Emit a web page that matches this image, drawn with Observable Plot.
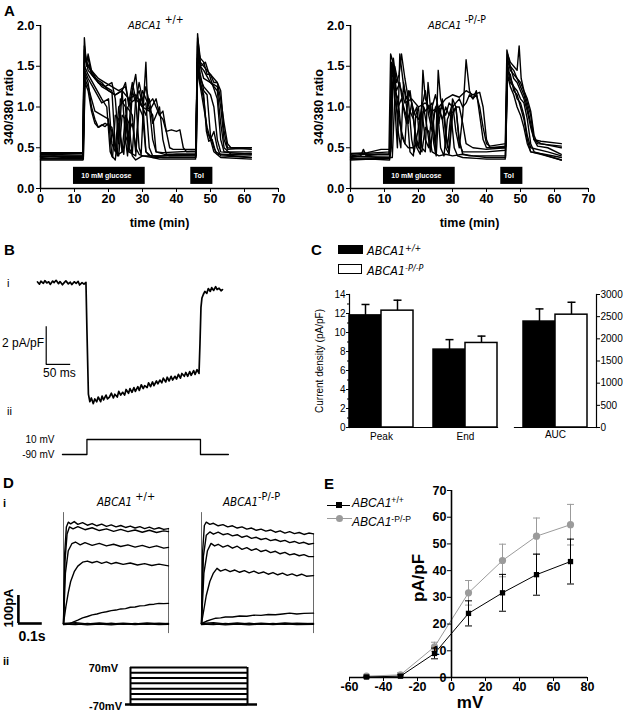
<!DOCTYPE html>
<html><head><meta charset="utf-8">
<script src="https://cdn.jsdelivr.net/npm/d3@7"></script>
<script src="https://cdn.jsdelivr.net/npm/@observablehq/plot@0.6"></script>
<style>
body{margin:0;background:#fff;}
#fig{position:relative;width:623px;height:716px;overflow:hidden;font-family:"Liberation Sans",Arial,Helvetica,sans-serif;color:#000;background:#fff}
#fig svg{overflow:visible}
.lab{position:absolute;white-space:nowrap;line-height:1}
sup{font-size:0.72em;vertical-align:0.5em;line-height:0}
sup.big{font-size:0.95em;vertical-align:0.55em}
</style></head><body><div id="fig"></div>
<script>
const FONT = '"Liberation Sans", Arial, Helvetica, sans-serif';
const NARROW = '"Liberation Sans Narrow", "DejaVu Sans Condensed", Arial, sans-serif';

// ---------- Panel A data (time in min, 340/380 ratio) ----------
const aXTicks = [0, 10, 20, 30, 40, 50, 60, 70];
const aYTicks = [0, 0.5, 1.0, 1.5, 2.0];
const aStimuli = [{label: "10 mM glucose", start: 9.7, end: 30.8}, {label: "Tol", start: 44.2, end: 50.7}];
const aWildTraces = [
 [0,0.38, 4,0.40, 8,0.37, 12.4,0.39, 12.9,1.85, 13.5,1.5, 14,1.65, 15,1.45, 17,1.3, 19,1.25, 21,1.2, 22,0.5, 22.6,0.4, 23.5,1.1, 25,1.0, 26,0.45, 27,1.2, 28,1.05, 29,1.3, 30,1.1, 31,0.45, 32,0.4, 36,0.4, 40,0.42, 45.7,0.42, 46.2,1.9, 47,1.5, 48,1.45, 50,1.3, 52,1.2, 53,0.8, 54,0.5, 56,0.42, 62,0.43],
 [0,0.42, 12.5,0.41, 13,1.6, 14,1.5, 16,1.35, 18,1.3, 20,1.2, 22,1.15, 24,1.2, 25,0.6, 25.6,0.4, 26.5,1.05, 28,1.1, 29,0.5, 29.6,0.42, 30.5,1.2, 31,1.55, 31.5,1.0, 33,0.9, 34,0.45, 38,0.4, 45.8,0.4, 46.3,1.7, 47,1.5, 48.5,1.55, 50,1.35, 52,1.1, 53,0.6, 54,0.45, 62,0.45],
 [0,0.36, 12.6,0.36, 13.1,1.4, 14,1.3, 15,1.0, 16,0.85, 17,0.75, 19,0.8, 21,0.75, 22,0.5, 23,0.4, 24,0.9, 25,0.85, 26,0.45, 28,0.4, 29,1.0, 30,0.9, 31,0.45, 33,0.38, 40,0.38, 45.6,0.38, 46.1,1.6, 47,1.3, 48,1.1, 49,0.7, 50,0.6, 51,0.7, 52,0.5, 53,0.4, 62,0.38],
 [0,0.4, 12.4,0.4, 12.9,1.7, 14,1.45, 16,1.35, 18,1.25, 20,1.2, 22,1.15, 24,1.2, 26,1.1, 28,1.15, 30,1.0, 32,0.95, 34,1.1, 35,0.9, 36,0.85, 37,0.7, 38.5,0.72, 40,0.7, 41,0.72, 42,0.5, 43,0.45, 45.8,0.45, 46.2,1.75, 47,1.5, 48,1.35, 50,1.3, 52,1.25, 53,1.0, 54,0.6, 55,0.48, 62,0.5],
 [0,0.37, 12.5,0.37, 13,1.5, 14,1.4, 16,1.25, 18,1.1, 19.5,1.0, 20.5,0.45, 21.2,0.38, 22,0.9, 23,0.85, 24,0.5, 24.5,0.42, 25.5,1.0, 27,0.9, 28,0.45, 29,1.1, 30,1.0, 31,1.05, 32,0.5, 33,0.4, 36,0.38, 45.7,0.38, 46.2,1.65, 47,1.4, 48,1.2, 49,1.15, 50,0.65, 51,0.5, 52,0.42, 62,0.38],
 [0,0.44, 12.4,0.44, 12.9,1.55, 14,1.6, 15,1.4, 17,1.3, 19,1.25, 21,1.3, 22,1.1, 23,0.55, 24,1.2, 25,1.3, 26,1.0, 27,1.2, 28,1.4, 29,1.0, 30,1.2, 31,1.1, 32,1.0, 33,0.6, 34,0.45, 36,0.44, 45.8,0.46, 46.2,1.8, 47,1.55, 48,1.5, 49,1.45, 51,1.35, 52,1.3, 53,1.2, 54,0.7, 55,0.5, 62,0.48],
 [0,0.4, 12.5,0.39, 13,1.45, 14,1.35, 16,1.2, 18,1.05, 20,1.1, 21,0.55, 22,0.45, 23,1.0, 25,1.1, 26,0.5, 27,0.42, 28,1.1, 30,1.0, 31,0.9, 32,1.1, 33,0.8, 34,0.9, 35,1.0, 36,0.6, 37,0.42, 45.7,0.42, 46.1,1.55, 47,1.35, 48,1.25, 50,1.15, 51,1.0, 52,0.6, 53,0.45, 62,0.42],
 [0,0.35, 12.5,0.35, 13,1.35, 14,1.25, 15,1.1, 16,0.95, 18,0.9, 20,0.85, 21,0.4, 22,0.35, 23,0.8, 24,0.45, 25,0.9, 26,0.8, 27,0.4, 28,0.35, 30,0.4, 33,0.38, 35,0.36, 45.6,0.36, 46.1,1.45, 47,1.25, 48,1.0, 49,0.75, 50,0.6, 51,0.45, 53,0.38, 62,0.36],
 [0,0.43, 12.4,0.43, 12.9,1.75, 13.5,1.55, 15,1.45, 17,1.35, 19,1.3, 21,1.25, 23,1.2, 25,1.25, 26,1.05, 27,1.3, 28,1.1, 29,1.2, 30,1.05, 31,1.25, 32,1.05, 33,1.1, 34,1.0, 35,0.9, 36,0.95, 37,0.7, 38,0.5, 39,0.48, 45.8,0.48, 46.2,1.85, 47,1.6, 48,1.55, 49,1.4, 50,1.4, 51,1.3, 52,1.3, 53,1.1, 54,0.8, 55,0.55, 56,0.5, 62,0.5],
 [0,0.39, 12.6,0.38, 13.1,1.3, 14,1.2, 15,0.95, 16,0.8, 17,0.75, 18,0.78, 19,0.76, 20,0.8, 21,0.7, 22,0.5, 23,0.42, 24,0.45, 26,0.7, 27,0.8, 28,0.5, 29,0.42, 30,0.4, 32,0.4, 35,0.4, 45.7,0.41, 46.1,1.5, 47,1.3, 48,1.15, 48.8,0.7, 49.5,0.58, 50.5,0.6, 51.5,0.45, 53,0.42, 62,0.41]
];
const aMutantTraces = [
 [0,0.38, 3,0.4, 3.8,0.48, 4.6,0.4, 8,0.42, 11.3,0.42, 11.8,1.65, 12.5,1.55, 13.2,0.9, 13.8,0.5, 14.5,1.65, 15.5,1.3, 16.5,1.1, 17.5,1.2, 18.5,0.9, 19.5,1.0, 20.5,0.5, 21.3,1.45, 22,1.1, 23,1.0, 24,1.05, 25,0.45, 25.8,1.45, 26.5,1.1, 27.5,0.95, 28.5,0.5, 29.5,0.9, 31,1.0, 32,1.0, 33,0.8, 34,0.55, 36,0.5, 40,0.48, 45.5,0.5, 46,1.7, 47,1.5, 48,1.45, 49,1.35, 50,1.3, 51,1.2, 52,1.05, 53,0.9, 54,0.6, 55,0.52, 58,0.5, 62,0.42],
 [0,0.35, 6,0.36, 11.5,0.35, 12,0.5, 12.6,1.6, 13.5,1.3, 14.3,1.4, 15,1.65, 16,1.35, 17,1.1, 18,0.6, 18.7,0.45, 20,0.75, 21,1.0, 22,1.2, 23,0.9, 24,0.7, 25,1.0, 26,0.8, 27,1.1, 28,0.65, 29,0.45, 30,1.1, 31,1.0, 32,0.6, 33,0.42, 35,0.4, 40,0.4, 45.6,0.4, 46.1,1.55, 47,1.35, 48,1.25, 49,1.2, 50,1.1, 51,1.05, 52,0.85, 53,0.55, 54,0.45, 58,0.4, 62,0.35],
 [0,0.42, 8,0.44, 11.8,0.45, 12.4,1.2, 13,1.5, 14,1.3, 15,1.2, 16,1.05, 18,1.1, 20,1.0, 22,1.05, 24,0.95, 26,1.0, 28,1.1, 30,1.15, 32,1.12, 34,1.2, 36,1.15, 38,1.18, 39,1.0, 40,0.6, 41,0.5, 45.7,0.52, 46.2,1.6, 47,1.45, 48,1.4, 49,1.35, 50,1.25, 51,1.15, 52,1.0, 53,0.8, 54,0.6, 56,0.55, 62,0.5],
 [0,0.4, 4,0.42, 11.5,0.42, 12,1.4, 13,1.35, 14,0.7, 14.8,0.5, 15.6,1.3, 16.5,1.0, 17.5,0.45, 18.5,0.4, 19.2,0.9, 20,1.0, 21,0.5, 22,0.45, 22.8,1.3, 23.5,1.0, 24.5,0.55, 25.2,0.4, 26,1.0, 27,0.85, 28,0.5, 29,0.42, 30,0.9, 31,1.0, 32,0.55, 33,0.45, 36,0.45, 40,0.45, 45.6,0.47, 46.1,1.5, 47,1.3, 48,1.25, 49,1.1, 50,1.05, 51,0.9, 52,0.65, 53,0.5, 58,0.45, 62,0.4],
 [0,0.37, 10,0.38, 12.3,0.38, 13,1.1, 14,0.9, 15,0.7, 16,0.55, 17,0.5, 18.5,0.5, 19.5,0.55, 21,0.45, 22,0.75, 23,0.7, 24,0.45, 26,0.4, 28,0.42, 30,0.4, 33,0.42, 36,0.4, 40,0.38, 45.6,0.38, 46.2,1.4, 47,1.25, 48,1.15, 49,1.0, 50,0.9, 51,0.75, 52,0.55, 53,0.45, 56,0.42, 62,0.35],
 [0,0.39, 11.6,0.4, 12.2,1.5, 13,1.3, 14,1.0, 15,1.1, 16,0.95, 17,0.8, 18,1.05, 19,0.9, 20,0.85, 21,0.95, 22,0.6, 23,0.5, 24,1.0, 25,1.15, 26,0.95, 27,0.85, 28,1.0, 29,0.9, 30,1.05, 31,0.7, 32,0.5, 33,0.9, 34,1.58, 35,1.2, 36,1.1, 37,1.15, 38,1.0, 39,0.75, 40,0.55, 41,0.52, 45.7,0.55, 46.2,1.65, 47,1.55, 48,1.5, 49,1.45, 49.6,1.75, 50.2,1.35, 51,1.2, 52,1.1, 53,0.95, 54,0.65, 55,0.55, 62,0.52],
 [0,0.43, 5,0.44, 9,0.48, 11.7,0.48, 12.3,1.3, 13,1.2, 14,1.1, 15,0.65, 16,0.55, 17,1.2, 18,1.05, 19,0.7, 20,0.5, 21,1.05, 22,0.95, 23,1.0, 24,0.8, 25,0.6, 26,0.95, 27,1.0, 28,0.9, 29,1.05, 30,1.0, 31,1.05, 32,1.1, 33,1.0, 34,1.05, 35,1.15, 36,1.1, 37,1.2, 38,0.9, 39,0.6, 40,0.5, 45.6,0.5, 46.1,1.55, 47,1.5, 48,1.35, 49,1.3, 50,1.2, 51,1.1, 52,0.95, 53,0.75, 54,0.6, 56,0.58, 62,0.55],
 [0,0.36, 11.5,0.37, 12.1,1.55, 12.8,1.45, 13.5,1.2, 14.5,1.3, 15.5,1.0, 16.5,0.8, 17.5,0.95, 18.5,0.85, 19.5,0.5, 20.5,0.42, 21.5,1.0, 22.5,0.75, 23.5,0.45, 24.5,0.9, 25.5,1.05, 26.5,0.5, 27.5,0.4, 28.5,0.85, 29.5,0.95, 30.5,0.5, 31.5,0.4, 33,0.38, 37,0.37, 40,0.36, 45.5,0.36, 46,1.45, 47,1.4, 48,1.2, 49,1.15, 50,1.0, 51,0.85, 52,0.6, 53,0.45, 57,0.42, 62,0.38]
];

// ---------- Panel B data (ms, pA/pF, mV) ----------
const bTrace = [0,0.05, 4,-0.06, 7,0.09, 12,-0.02, 15,0.12, 19,0.0, 23,0.06, 26,-0.08, 31,0.1, 34,0.02, 38,0.14, 43,-0.04, 46,0.07, 51,-0.1, 55,0.03, 58,0.11, 63,-0.05, 67,0.04, 70,-0.09, 75,0.06, 79,-0.02, 83,0.08, 86,-0.11, 91,0.02, 95,-0.06, 99,0.03, 101,-2.5, 104,-5.9, 107,-6.3, 110,-6.1, 114,-6.4, 117,-6.15, 121,-6.3, 124,-6.05, 129,-6.3, 132,-6.0, 135,-6.2, 140,-5.95, 143,-6.15, 147,-6.05, 151,-5.85, 155,-6.1, 158,-5.9, 163,-6.05, 166,-5.75, 170,-5.95, 174,-5.8, 178,-5.95, 181,-5.65, 186,-5.85, 189,-5.6, 193,-5.8, 197,-5.55, 200,-5.75, 205,-5.5, 208,-5.7, 212,-5.4, 216,-5.6, 219,-5.45, 224,-5.55, 227,-5.3, 231,-5.5, 235,-5.25, 238,-5.45, 243,-5.2, 246,-5.35, 250,-5.15, 254,-5.3, 257,-5.05, 262,-5.25, 265,-5.0, 269,-5.2, 273,-4.95, 276,-5.15, 281,-4.95, 284,-5.1, 288,-4.85, 292,-5.05, 295,-4.8, 300,-4.95, 303,-4.75, 307,-4.95, 311,-4.7, 314,-4.9, 319,-4.65, 322,-4.85, 326,-4.6, 330,-4.8, 332,-3.2, 334,-1.3, 336,-0.8, 339,-0.6, 342,-0.45, 346,-0.55, 349,-0.3, 353,-0.45, 356,-0.25, 360,-0.4, 364,-0.2, 367,-0.35, 371,-0.28, 375,-0.42, 378,-0.35];
const bScaleBar = {t: 17.8, v: -4.32, amp: 2, dur: 50};
const bProtocol = [[51,-90],[101,-90],[101,10],[333,10],[333,-90],[390,-90]];
const bLevels = [{mv: 10, text: "10 mV"}, {mv: -90, text: "-90 mV"}];

// ---------- Panel C data ----------
const cGroups = ["Peak", "End"];
const cGenotypes = ["+/+", "-P/-P"];
const cWtMean = [11.8, 8.2];
const cWtErr = [1.15, 1.05];
const cKoMean = [12.3, 8.9];
const cKoErr = [1.1, 0.72];
const cAucMean = [2390, 2545];
const cAucErr = [285, 280];
const cLeftTicks = [0, 2, 4, 6, 8, 10, 12, 14];
const cLeftMinor = [1, 3, 5, 7, 9, 11, 13];
const cRightTicks = [0, 500, 1000, 1500, 2000, 2500, 3000];

// ---------- Panel D data (s, pA) ----------
const dWtTraces = [
 [0,0, 0.005,250, 0.012,345, 0.02,362, 0.03,356, 0.045,364, 0.06,354, 0.08,360, 0.1,351, 0.12,357, 0.14,349, 0.16,355, 0.18,347, 0.2,352, 0.22,345, 0.24,350, 0.26,343, 0.28,348, 0.3,341, 0.32,346, 0.34,339, 0.36,344, 0.38,337, 0.4,342, 0.42,336, 0.44,339],
 [0,0, 0.006,220, 0.015,320, 0.025,345, 0.04,338, 0.06,346, 0.09,335, 0.12,342, 0.15,332, 0.18,338, 0.21,329, 0.24,336, 0.27,328, 0.3,334, 0.33,326, 0.36,333, 0.39,325, 0.42,331, 0.44,328],
 [0,0, 0.008,180, 0.02,260, 0.035,285, 0.05,291, 0.07,281, 0.09,289, 0.12,279, 0.15,286, 0.18,277, 0.21,283, 0.24,275, 0.27,281, 0.3,273, 0.33,279, 0.36,271, 0.39,277, 0.42,269, 0.44,272],
 [0,0, 0.01,60, 0.02,110, 0.03,150, 0.045,185, 0.06,205, 0.08,219, 0.1,223, 0.12,217, 0.14,222, 0.16,215, 0.18,220, 0.2,213, 0.22,218, 0.25,211, 0.28,216, 0.31,209, 0.34,214, 0.37,207, 0.4,212, 0.44,206],
 [0,0, 0.02,-3, 0.04,5, 0.06,12, 0.08,20, 0.1,25, 0.12,31, 0.14,34, 0.16,39, 0.18,42, 0.2,46, 0.22,48, 0.24,52, 0.26,53, 0.28,58, 0.3,59, 0.32,63, 0.34,64, 0.36,68, 0.38,69, 0.4,72, 0.42,71, 0.44,72],
 [0,0, 0.05,3, 0.1,-2, 0.15,2, 0.2,-2, 0.25,1, 0.3,-2, 0.35,2, 0.4,-1, 0.44,0],
 [0,-2, 0.05,-4, 0.1,0, 0.15,-3, 0.2,1, 0.25,-3, 0.3,0, 0.35,-3, 0.4,1, 0.44,-2],
 [0,-4, 0.05,-1, 0.1,-5, 0.15,-2, 0.2,-5, 0.25,-1, 0.3,-4, 0.35,-1, 0.4,-4, 0.44,-3]
];
const dMutTraces = [
 [0,0, 0.005,260, 0.012,350, 0.02,362, 0.035,354, 0.05,358, 0.07,349, 0.09,353, 0.11,345, 0.13,349, 0.15,341, 0.17,345, 0.19,337, 0.21,341, 0.23,333, 0.25,337, 0.27,330, 0.29,334, 0.31,326, 0.33,331, 0.35,323, 0.37,328, 0.39,321, 0.41,325, 0.43,318, 0.45,323, 0.47,320],
 [0,0, 0.008,240, 0.02,315, 0.035,327, 0.05,319, 0.07,326, 0.09,317, 0.11,321, 0.13,313, 0.15,317, 0.17,308, 0.19,313, 0.21,304, 0.23,308, 0.25,300, 0.27,304, 0.29,296, 0.31,300, 0.33,293, 0.35,297, 0.37,289, 0.39,293, 0.41,286, 0.43,290, 0.45,283, 0.47,286],
 [0,0, 0.01,180, 0.025,260, 0.04,286, 0.055,277, 0.07,283, 0.09,273, 0.11,279, 0.13,269, 0.15,276, 0.17,265, 0.19,271, 0.21,261, 0.23,267, 0.25,257, 0.27,262, 0.29,253, 0.31,258, 0.33,249, 0.35,254, 0.37,245, 0.39,249, 0.41,242, 0.43,246, 0.45,239, 0.47,239],
 [0,0, 0.01,50, 0.02,100, 0.035,150, 0.05,180, 0.065,197, 0.08,187, 0.1,193, 0.12,185, 0.14,191, 0.16,183, 0.18,189, 0.2,181, 0.22,187, 0.24,179, 0.26,184, 0.28,176, 0.3,182, 0.32,174, 0.34,180, 0.36,172, 0.38,177, 0.4,170, 0.42,176, 0.44,169, 0.47,171],
 [0,0, 0.02,8, 0.04,14, 0.06,19, 0.08,20, 0.1,23, 0.13,23, 0.16,27, 0.19,26, 0.22,30, 0.25,29, 0.28,32, 0.31,31, 0.34,34, 0.37,37, 0.4,34, 0.43,36, 0.47,37],
 [0,0, 0.05,3, 0.1,-2, 0.15,2, 0.2,-2, 0.25,1, 0.3,-2, 0.35,2, 0.4,-1, 0.47,0],
 [0,-2, 0.05,-4, 0.1,0, 0.15,-3, 0.2,1, 0.25,-3, 0.3,0, 0.35,-3, 0.4,1, 0.47,-2],
 [0,-4, 0.05,-1, 0.1,-5, 0.15,-2, 0.2,-5, 0.25,-1, 0.3,-4, 0.35,-1, 0.4,-4, 0.47,-3]
];
const dWtDuration = 0.44;
const dMutDuration = 0.47;
const dCapTransient = 396;
const dTail = -36;
const dScaleBar = {t: -0.189, amp: 100, dur: 0.1};
const dLevels = [-70, -50, -30, -10, 10, 30, 50, 70];
const dPulse = {start: 0, end: 0.49, pre: -0.021, post: 0.532};

// ---------- Panel E data (mV, pA/pF) ----------
const eVoltages = [-50, -30, -10, 10, 30, 50, 70];
const eWtMean = [0.2, 0.5, 9.0, 24.0, 31.7, 38.5, 43.4];
const eWtErr = [0.3, 0.5, 2.0, 4.7, 6.9, 7.7, 8.4];
const eMutMean = [0.5, 1.0, 11.5, 31.7, 43.8, 52.9, 57.2];
const eMutErr = [0.5, 0.8, 1.7, 4.6, 6.1, 6.8, 7.6];
const eXTicks = [-60, -40, -20, 0, 20, 40, 60, 80];
const eYTicks = [0, 10, 20, 30, 40, 50, 60, 70];
const eXDomain = [-60, 80];
const eYDomain = [0, 70];

// ---------- helpers ----------
const fig = document.getElementById("fig");
function put(el, left, top) { el.style.position = "absolute"; el.style.left = left + "px"; el.style.top = top + "px"; fig.appendChild(el); return el; }
function label(html, left, top, css = "") { const d = document.createElement("div"); d.className = "lab"; d.innerHTML = html; d.style.cssText = css; return put(d, left, top); }
function plot(opts, left, top) {
  const svg = Plot.plot({...opts, style: {background: "transparent", overflow: "visible", fontFamily: FONT, color: "black"}});
  return put(svg, left, top);
}
function rows(traces) {
  return traces.flatMap((tr, id) => { const out = []; for (let i = 0; i < tr.length; i += 2) out.push({t: tr[i], v: tr[i + 1], id}); return out; });
}
const capSymbol = {draw(ctx, size) { const r = Math.sqrt(size / Math.PI); ctx.moveTo(-r, 0); ctx.lineTo(r, 0); }};
const genoFill = g => g === cGenotypes[0] ? "black" : "white";
const plain = d => `${d}`;

// ---------- Panel A ----------
function panelA(traces, left) {
  plot({
    width: 310, height: 230, marginLeft: 40, marginRight: 32, marginTop: 25, marginBottom: 42,
    x: {domain: [0, 70]}, y: {domain: [0, 2]},
    marks: [
      Plot.rect(aStimuli, {x1: "start", x2: "end", y1: 0.05, y2: 0.26, fill: "black"}),
      Plot.text(aStimuli, {x: d => (d.start + d.end) / 2, y: 0.155, text: "label", fill: "white", fontSize: 7, fontWeight: "bold", dx: -3}),
      Plot.line(rows(traces), {x: "t", y: "v", z: "id", stroke: "black", strokeWidth: 1.4}),
      Plot.ruleX([0], {y1: 0, y2: 2, strokeWidth: 1.5}),
      Plot.ruleY([0], {x1: 0, x2: 70, strokeWidth: 1.5}),
      Plot.axisX(aXTicks, {tickSize: 4, tickPadding: 2, fontSize: 12.5, fontWeight: "bold", label: "time (min)", labelAnchor: "center", labelArrow: "none", labelOffset: 38}),
      Plot.axisY(aYTicks, {tickSize: 4, tickPadding: 2, tickFormat: d3.format(".1f"), fontSize: 12.5, fontWeight: "bold", label: "340/380 ratio", labelAnchor: "center", labelArrow: "none", labelOffset: 36})
    ]
  }, left, 0);
}
panelA(aWildTraces, 0);
panelA(aMutantTraces, 310);
label("A", 4, 2.7, "font-size:15px;font-weight:bold");
label(`<i>ABCA1</i> <sup class="big">+/+</sup>`, 128, 19, `font-size:11px;font-family:${NARROW}`);
label(`<i>ABCA1</i> <sup class="big">-P/-P</sup>`, 428, 19, `font-size:11px;font-family:${NARROW}`);

// ---------- Panel B ----------
const bRows = []; for (let i = 0; i < bTrace.length; i += 2) bRows.push({t: bTrace[i], v: bTrace[i + 1]});
plot({
  width: 240, height: 132, marginLeft: 37, marginRight: 18, marginTop: 0, marginBottom: 0,
  x: {domain: [0, 378], axis: null}, y: {domain: [-6.5, 0.5], axis: null},
  marks: [
    Plot.line(bRows, {x: "t", y: "v", stroke: "black", strokeWidth: 1.7}),
    Plot.ruleX([bScaleBar.t], {y1: bScaleBar.v, y2: bScaleBar.v + bScaleBar.amp, strokeWidth: 1.2}),
    Plot.ruleY([bScaleBar.v], {x1: bScaleBar.t, x2: bScaleBar.t + bScaleBar.dur, strokeWidth: 1.2})
  ]
}, 0, 273);
plot({
  width: 240, height: 35, marginLeft: 37, marginRight: 18, marginTop: 9, marginBottom: 11,
  x: {domain: [0, 378], axis: null}, y: {domain: [-90, 10], axis: null},
  marks: [
    Plot.line(bProtocol, {x: d => d[0], y: d => d[1], stroke: "black", strokeWidth: 1.3}),
    Plot.text(bLevels, {x: bProtocol[0][0], y: "mv", text: "text", textAnchor: "end", dx: -8, fontSize: 10})
  ]
}, 0, 430);
label("B", 4, 241.6, "font-size:15px;font-weight:bold");
label("i", 7, 277.6, "font-size:11px");
label("ii", 7, 406, "font-size:11px");
label("2 pA/pF", 2, 337, "font-size:12px");
label("50 ms", 43, 367, "font-size:12px");

// ---------- Panel C ----------
const cRows = cGroups.flatMap((g, i) => [
  {group: g, genotype: cGenotypes[0], mean: cWtMean[i], err: cWtErr[i]},
  {group: g, genotype: cGenotypes[1], mean: cKoMean[i], err: cKoErr[i]}
]);
plot({
  width: 220, height: 170, marginLeft: 39, marginRight: 13, marginTop: 14, marginBottom: 23,
  fx: {domain: cGroups, paddingInner: 0.235, paddingOuter: 0.106},
  x: {domain: cGenotypes, padding: 0, axis: null},
  y: {domain: [0, 14]},
  marks: [
    Plot.ruleX(cRows, {fx: "group", x: "genotype", y1: "mean", y2: d => d.mean + d.err, strokeWidth: 1.5}),
    Plot.dot(cRows, {fx: "group", x: "genotype", y: d => d.mean + d.err, symbol: capSymbol, r: 4, stroke: "black", fill: "none", strokeWidth: 1.5}),
    Plot.barY(cRows, {fx: "group", x: "genotype", y: "mean", fill: d => genoFill(d.genotype), stroke: "black", strokeWidth: 1.5}),
    Plot.frame({anchor: "left", facet: "super", strokeWidth: 1.2}),
    Plot.frame({anchor: "bottom", facet: "super", strokeWidth: 1.2}),
    Plot.axisY(cLeftTicks, {tickSize: 3, tickPadding: 1, fontSize: 10, tickFormat: plain, label: "Current density (pA/pF)", labelAnchor: "center", labelArrow: "none", labelOffset: 34}),
    Plot.axisY(cLeftMinor, {tickSize: 2, tickFormat: () => "", label: null}),
    Plot.axisFx({anchor: "bottom", tickSize: 0, tickPadding: 5, fontSize: 10, label: null})
  ]
}, 300, 280);
const cAucRows = cGenotypes.map((g, i) => ({genotype: g, mean: cAucMean[i], err: cAucErr[i]}));
plot({
  width: 118, height: 170, marginLeft: 9, marginRight: 27, marginTop: 14, marginBottom: 23,
  x: {domain: cGenotypes, paddingInner: 0, paddingOuter: 0.26, axis: null},
  y: {domain: [0, 3000]},
  marks: [
    Plot.ruleX(cAucRows, {x: "genotype", y1: "mean", y2: d => d.mean + d.err, strokeWidth: 1.5}),
    Plot.dot(cAucRows, {x: "genotype", y: d => d.mean + d.err, symbol: capSymbol, r: 4, stroke: "black", fill: "none", strokeWidth: 1.5}),
    Plot.barY(cAucRows, {x: "genotype", y: "mean", fill: d => genoFill(d.genotype), stroke: "black", strokeWidth: 1.5}),
    Plot.frame({anchor: "right", strokeWidth: 1.2}),
    Plot.frame({anchor: "bottom", strokeWidth: 1.2}),
    Plot.axisY(cRightTicks, {anchor: "right", tickSize: 3, tickPadding: 1, fontSize: 10, tickFormat: plain, label: null}),
    Plot.text(["AUC"], {frameAnchor: "bottom", dy: 10, fontSize: 10})
  ]
}, 505, 280);
label("C", 311, 241.6, "font-size:15px;font-weight:bold");
label("", 338, 245, "width:25px;height:9px;background:#000");
label("", 338, 264, "width:22px;height:8px;background:#fff;border:1.5px solid #000");
label(`<i>ABCA1<sup>+/+</sup></i>`, 367, 245, `font-size:12.5px;font-family:${NARROW}`);
label(`<i>ABCA1<sup>-P/-P</sup></i>`, 367, 265, `font-size:12.5px;font-family:${NARROW}`);

// ---------- Panel D ----------
function panelD(traces, duration, left, width, marginLeft, marginRight, withScale) {
  const marks = [
    Plot.ruleX([0], {y1: 0, y2: dCapTransient, stroke: "#444", strokeWidth: 0.8}),
    Plot.ruleX([duration], {y1: dTail, y2: traces[0][traces[0].length - 1], stroke: "#444", strokeWidth: 0.8}),
    Plot.line(rows(traces), {x: "t", y: "v", z: "id", stroke: "black", strokeWidth: 1.4})
  ];
  if (withScale) marks.push(
    Plot.ruleX([dScaleBar.t], {y1: 0, y2: dScaleBar.amp, strokeWidth: 2.6}),
    Plot.ruleY([0], {x1: dScaleBar.t, x2: dScaleBar.t + dScaleBar.dur, strokeWidth: 2.6})
  );
  plot({
    width, height: 140, marginLeft, marginRight, marginTop: 6, marginBottom: 8,
    x: {domain: [0, duration], axis: null}, y: {domain: [-50, 400], axis: null},
    marks
  }, left, 505);
}
panelD(dWtTraces, dWtDuration, 0, 180, 63, 12, true);
panelD(dMutTraces, dMutDuration, 180, 140, 21, 7, false);
plot({
  width: 190, height: 60, marginLeft: 50, marginRight: 23, marginTop: 12, marginBottom: 11,
  x: {domain: [dPulse.start, dPulse.end], axis: null}, y: {domain: [-70, 70], axis: null},
  marks: [
    Plot.ruleY(dLevels, {x1: dPulse.start, x2: dPulse.end, strokeWidth: 2}),
    Plot.ruleX([dPulse.start, dPulse.end], {y1: -70, y2: 70, strokeWidth: 2}),
    Plot.ruleY([-70], {x1: dPulse.pre, x2: dPulse.post, strokeWidth: 2.5})
  ]
}, 80, 655);
label("D", 3, 474.7, "font-size:15px;font-weight:bold");
label("i", 3, 497.6, "font-size:11px;font-weight:bold");
label("ii", 3, 655.6, "font-size:11px;font-weight:bold");
label(`<i>ABCA1</i> <sup class="big">+/+</sup>`, 97, 497, `font-size:11.5px;font-family:${NARROW}`);
label(`<i>ABCA1</i><sup class="big">-P/-P</sup>`, 223, 497, `font-size:11.5px;font-family:${NARROW}`);
label("100pA", 8, 608, "font-size:13px;font-weight:bold;transform:translate(-50%,-50%) rotate(-90deg)");
label("0.1s", 32, 636, "font-size:14px;font-weight:bold;transform:translate(-50%,-50%)");
label("70mV", 118, 668, "font-size:11px;font-weight:bold;transform:translate(-100%,-50%)");
label("-70mV", 122, 706, "font-size:11px;font-weight:bold;transform:translate(-100%,-50%)");

// ---------- Panel E ----------
const eWt = eVoltages.map((mv, i) => ({mv, val: eWtMean[i], err: eWtErr[i]}));
const eMut = eVoltages.map((mv, i) => ({mv, val: eMutMean[i], err: eMutErr[i]}));
const eW = 313, eML = 39, eMR = 36;
const eShift = (0 - eXDomain[0]) / (eXDomain[1] - eXDomain[0]) * (eW - eML - eMR);
const GREY = "#9b9b9b";
function eSeries(data, color, symbol, r) {
  return [
    Plot.ruleX(data, {x: "mv", y1: d => d.val - d.err, y2: d => d.val + d.err, stroke: color, strokeWidth: 1}),
    Plot.dot(data, {x: "mv", y: d => d.val + d.err, symbol: capSymbol, r: 3.5, stroke: color, fill: "none", strokeWidth: 1}),
    Plot.dot(data, {x: "mv", y: d => d.val - d.err, symbol: capSymbol, r: 3.5, stroke: color, fill: "none", strokeWidth: 1}),
    Plot.line(data, {x: "mv", y: "val", stroke: color, strokeWidth: 1}),
    Plot.dot(data, {x: "mv", y: "val", symbol, r, fill: color, stroke: "none"})
  ];
}
plot({
  width: eW, height: 261, marginLeft: eML, marginRight: eMR, marginTop: 35, marginBottom: 39,
  x: {domain: eXDomain}, y: {domain: eYDomain},
  marks: [
    ...eSeries(eMut, GREY, "circle", 3.6),
    ...eSeries(eWt, "black", "square", 3),
    Plot.ruleY([0], {strokeWidth: 1.6}),
    Plot.ruleX([0], {y1: eYDomain[0], y2: eYDomain[1], strokeWidth: 1.6}),
    Plot.axisX(eXTicks, {tickSize: 4, tickPadding: 1, fontSize: 12.5, fontWeight: "bold", tickFormat: plain, label: null}),
    Plot.axisY(eYTicks, {tickSize: 4, tickPadding: 1, dx: eShift, fontSize: 12.5, fontWeight: "bold", tickFormat: plain, label: null})
  ]
}, 310, 455);
label("E", 324, 475.7, "font-size:15px;font-weight:bold");
label("pA/pF", 418, 578, "font-size:17px;font-weight:bold;transform:translate(-50%,-50%) rotate(-90deg)");
label("mV", 470, 702, "font-size:17px;font-weight:bold;transform:translate(-50%,-50%)");
label("", 327, 504.5, "width:23px;height:1px;background:#000");
label("", 336, 502, "width:6px;height:6px;background:#000");
label(`<i>ABCA1</i><sup>+/+</sup>`, 352, 497, "font-size:12px");
label("", 327, 518, `width:25px;height:1px;background:${GREY}`);
label("", 335.5, 514.5, `width:7px;height:7px;border-radius:50%;background:${GREY}`);
label(`<i>ABCA1</i><sup>-P/-P</sup>`, 352, 516, "font-size:12px");
</script></body></html>
